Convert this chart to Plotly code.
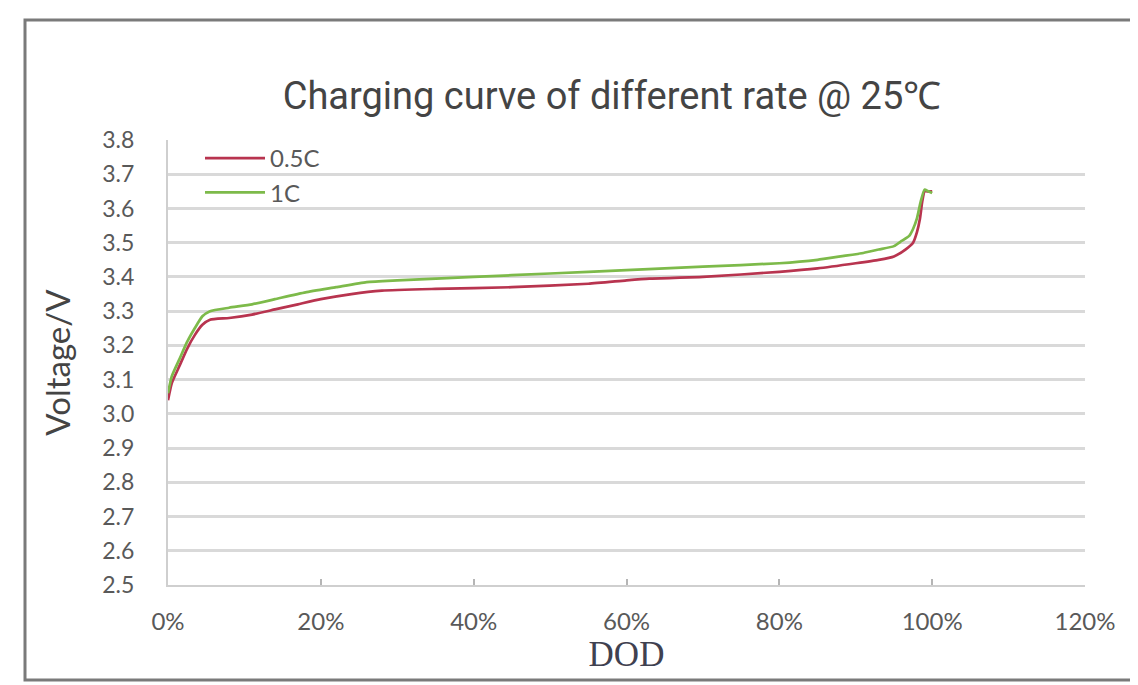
import plotly.graph_objects as go

# ---- data ----
dod_05c = [0, 0.5, 1.5, 2.5, 3.5, 4.5, 5.5, 8, 11, 14, 17, 20, 24, 28, 35, 45, 55, 60, 63,
           70, 80, 85, 90, 93, 95, 96.5, 97.5, 98, 98.4, 98.7, 99, 99.5, 100]
v_05c = [3.04, 3.09, 3.14, 3.19, 3.23, 3.26, 3.275, 3.28, 3.29, 3.305, 3.32, 3.335, 3.35, 3.36,
         3.365, 3.37, 3.38, 3.39, 3.395, 3.40, 3.415, 3.425, 3.44, 3.45, 3.46, 3.48, 3.50, 3.53,
         3.57, 3.62, 3.65, 3.65, 3.65]

dod_1c = [0, 0.5, 1.5, 2.5, 3.5, 4.5, 5.5, 8, 11, 14, 18, 22, 26, 30, 40, 50, 60, 70, 80, 85,
          88, 91, 93, 95, 96, 97, 97.5, 98, 98.5, 99, 99.5, 100]
v_1c = [3.06, 3.11, 3.16, 3.21, 3.25, 3.285, 3.30, 3.31, 3.32, 3.335, 3.355, 3.37, 3.385, 3.39,
        3.40, 3.41, 3.42, 3.43, 3.44, 3.45, 3.46, 3.47, 3.48, 3.49, 3.505, 3.52, 3.54, 3.57,
        3.62, 3.655, 3.65, 3.645]

series_names = ["0.5C", "1C"]
title_text = "Charging curve of different rate @ 25℃"
x_title = "DOD"
y_title = "Voltage/V"
x_ticks = [0, 20, 40, 60, 80, 100, 120]
x_ticktext = ["0%", "20%", "40%", "60%", "80%", "100%", "120%"]
y_ticks = [2.5, 2.6, 2.7, 2.8, 2.9, 3.0, 3.1, 3.2, 3.3, 3.4, 3.5, 3.6, 3.7, 3.8]

RED = "#b8344f"
GREEN = "#7dba4a"
GRID = "#d9d9d9"
TICKC = "#595959"

fig = go.Figure()
fig.add_trace(go.Scatter(x=dod_05c, y=v_05c, mode="lines", name=series_names[0],
                         line=dict(color=RED, width=2.7, shape="spline", smoothing=0.5)))
fig.add_trace(go.Scatter(x=dod_1c, y=v_1c, mode="lines", name=series_names[1],
                         line=dict(color=GREEN, width=2.7, shape="spline", smoothing=0.5)))

W, H = 1130, 677
L, R, T, B = 160, 53, 132, 100
pw, ph = W - L - R, H - T - B

fig.update_layout(
    width=W, height=H,
    margin=dict(l=L, r=R, t=T, b=B),
    paper_bgcolor="white", plot_bgcolor="white",
    title=dict(text=title_text, x=604 / W, xanchor="center", y=1 - 88 / H, yanchor="middle",
               xref="container", yref="container",
               font=dict(family="Roboto, sans-serif", size=38, color="#444444")),
    legend=dict(x=32 / pw, y=(H - B - 128) / ph, xanchor="left", yanchor="top",
                bgcolor="rgba(0,0,0,0)", itemwidth=60,
                font=dict(family="Lato, sans-serif", size=24, color=TICKC)),
    showlegend=True,
)

fig.update_xaxes(range=[0, 120], tickvals=x_ticks, ticktext=x_ticktext,
                 showgrid=False, showline=True, linecolor="#cfcfcf", linewidth=2,
                 ticks="inside", ticklen=6, tickcolor="#b5b5b5", tickwidth=2,
                 tickfont=dict(family="Lato, sans-serif", size=24, color=TICKC),
                 ticklabelstandoff=14,
                 title=dict(text=x_title, standoff=2,
                            font=dict(family="Liberation Serif, serif", size=35, color="#3f4150")),
                 zeroline=False)
fig.update_yaxes(range=[2.5, 3.8], tickvals=y_ticks, tickformat=".1f",
                 showgrid=True, gridcolor=GRID, gridwidth=2.5,
                 showline=True, linecolor="#cfcfcf", linewidth=2,
                 ticks="", ticklabelstandoff=27,
                 tickfont=dict(family="Lato, sans-serif", size=23, color=TICKC),
                 title=dict(text=y_title, standoff=22,
                            font=dict(family="Lato, sans-serif", size=33, color="#444444")),
                 zeroline=False)

# outer frame
fig.add_shape(type="rect", xref="paper", yref="paper",
              x0=(17 - L) / pw, x1=(W + 10 - L) / pw,
              y0=(H - B - 672) / ph, y1=(H - B - 12) / ph,
              line=dict(color="#7a7a7a", width=3), layer="below")

fig.write_html("out.html")
